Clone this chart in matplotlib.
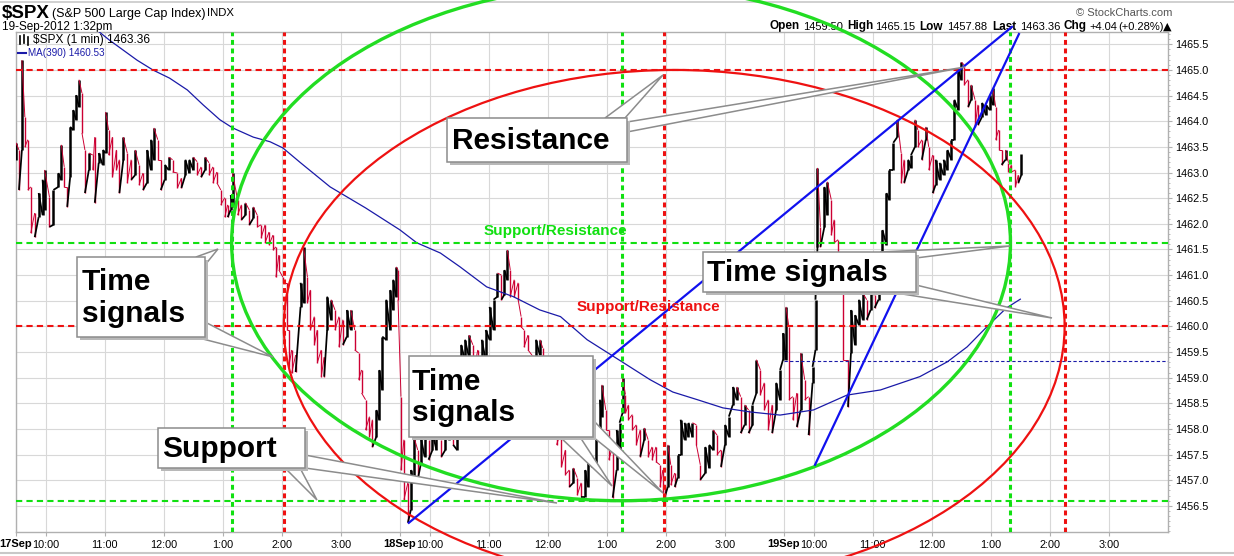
import numpy as np
import matplotlib.pyplot as plt
from matplotlib.collections import LineCollection
from matplotlib.patches import Ellipse, Polygon, Rectangle
from matplotlib.ticker import MultipleLocator, FixedLocator

plt.rcParams['font.family'] = ['Liberation Sans', 'DejaVu Sans']

# ---- data: $SPX 1-min bars, 17-19 Sep 2012 (minutes on a trading-time axis) ----
# minute 0 = 17Sep 9:30, 390 = 18Sep 9:30, 780 = 19Sep 9:30
bar_t = [
    # 17 Sep
    0, 3, 6, 9, 12, 15, 19, 23, 27, 29,
    34, 38, 43, 46, 49, 52, 55, 58, 61, 64,
    67, 70, 74, 78, 80, 84, 88, 91, 94, 98,
    102, 105, 109, 113, 117, 121, 125, 129, 133, 137,
    140, 144, 147, 151, 155, 159, 164, 168, 172, 176,
    180, 184, 188, 192, 196, 200, 204, 208, 212, 215,
    218, 220, 225, 229, 233, 237, 241, 245, 249, 253,
    257, 261, 264, 267, 271, 275, 277, 280, 284, 289,
    292, 296, 299, 303, 306, 310, 313, 316, 320, 324,
    328, 332, 336, 340, 344, 348, 351, 355, 359, 362,
    366, 369, 372, 376, 380, 383, 386, 388,
    # 18 Sep
    391, 394, 398, 401, 404, 408, 411, 415, 419, 423,
    427, 432, 436, 440, 444, 448, 452, 456, 460, 464,
    469, 473, 477, 481, 485, 489, 493, 496, 499, 502,
    506, 510, 513, 516, 520, 524, 528, 532, 535, 539,
    544, 549, 554, 558, 562, 566, 570, 574, 578, 581,
    585, 589, 593, 595, 599, 602, 606, 610, 613, 616,
    619, 622, 626, 630, 634, 638, 642, 646, 650, 654,
    657, 659, 662, 665, 669, 672, 675, 679, 683, 687,
    691, 695, 700, 704, 708, 712, 716, 720, 724, 728,
    732, 736, 740, 744, 748, 752, 756, 760, 764, 768,
    772, 776, 779,
    # 19 Sep
    782, 785, 789, 793, 797, 801, 805, 809, 812, 814,
    817, 821, 824, 828, 831, 835, 840, 845, 848, 852,
    856, 860, 864, 868, 872, 876, 880, 884, 887, 891,
    895, 899, 902, 906, 909, 913, 916, 920, 924, 927,
    931, 934, 938, 942, 946, 950, 953, 957, 960, 963,
    967, 970, 974, 977, 981, 985, 989, 992, 995, 998,
    1001, 1005, 1008, 1011, 1015, 1018, 1021,
]
bar_hi = [
    1463.58, 1463.44, 1465.19, 1464.08, 1463.64, 1462.72, 1462.21, 1462.60, 1462.86, 1463.05,
    1462.52, 1462.66, 1462.99, 1463.54, 1463.11, 1462.72, 1463.89, 1464.22, 1464.51, 1464.81,
    1464.55, 1463.44, 1463.38, 1463.34, 1463.69, 1463.38, 1463.44, 1464.18, 1463.83, 1463.69,
    1463.44, 1463.25, 1463.69, 1463.38, 1463.25, 1463.44, 1463.15, 1462.99, 1463.44, 1463.64,
    1463.87, 1463.64, 1463.25, 1463.15, 1463.30, 1463.25, 1462.99, 1462.89, 1463.25, 1463.25,
    1463.30, 1463.21, 1463.11, 1463.30, 1463.19, 1463.11, 1463.01, 1462.66, 1462.51, 1462.37,
    1462.56, 1462.99, 1462.47, 1462.37, 1462.41, 1462.27, 1462.33, 1462.17, 1461.98, 1461.98,
    1461.84, 1461.78, 1461.55, 1461.39, 1460.96, 1460.85, 1459.93, 1459.54, 1459.44, 1460.85,
    1461.55, 1460.96, 1460.71, 1460.19, 1459.93, 1459.54, 1459.40, 1460.58, 1460.52, 1460.32,
    1460.19, 1460.13, 1460.32, 1460.32, 1459.93, 1459.48, 1459.15, 1458.57, 1458.24, 1458.18,
    1458.37, 1459.15, 1459.80, 1460.52, 1460.71, 1460.91, 1461.16, 1461.10,
    1458.63, 1457.79, 1456.95, 1457.20, 1457.85, 1457.59, 1457.85, 1457.92, 1457.79, 1457.92,
    1457.98, 1457.79, 1458.08, 1458.24, 1458.08, 1458.18, 1459.64, 1459.74, 1459.83, 1459.64,
    1459.54, 1459.74, 1459.93, 1460.38, 1460.52, 1461.04, 1461.00, 1461.10, 1461.49, 1461.10,
    1460.91, 1460.85, 1460.19, 1459.93, 1459.83, 1459.44, 1459.74, 1459.74, 1459.58, 1459.35,
    1458.67, 1458.18, 1457.98, 1457.59, 1457.20, 1457.24, 1457.05, 1456.95, 1457.20, 1457.46,
    1457.46, 1457.85, 1458.57, 1458.86, 1458.37, 1457.98, 1457.65, 1457.98, 1458.12, 1459.00,
    1458.67, 1458.47, 1458.28, 1458.08, 1457.98, 1458.02, 1457.79, 1457.65, 1457.65, 1457.30,
    1457.20, 1456.91, 1457.69, 1457.30, 1457.14, 1457.50, 1458.18, 1458.12, 1458.12, 1458.12,
    1458.08, 1457.30, 1457.65, 1457.69, 1457.98, 1457.88, 1457.59, 1458.08, 1458.24, 1458.82,
    1458.82, 1458.63, 1458.47, 1458.37, 1458.47, 1459.35, 1459.15, 1458.90, 1458.57, 1458.47,
    1458.90, 1459.15, 1459.87,
    1460.38, 1459.99, 1458.63, 1458.70, 1459.48, 1458.96, 1458.63, 1459.21, 1460.52, 1463.09,
    1461.94, 1462.72, 1462.82, 1462.47, 1462.08, 1461.69, 1460.65, 1459.35, 1460.32, 1460.22,
    1460.52, 1460.65, 1460.52, 1460.65, 1460.61, 1460.91, 1461.88, 1462.60, 1463.05, 1463.58,
    1464.03, 1463.38, 1463.25, 1463.25, 1463.34, 1464.03, 1463.83, 1463.64, 1463.89, 1463.50,
    1463.34, 1463.25, 1463.19, 1463.25, 1463.44, 1463.64, 1464.42, 1465.00, 1465.15, 1465.10,
    1464.81, 1464.71, 1464.42, 1464.32, 1464.36, 1464.32, 1464.51, 1464.65, 1464.28, 1463.83,
    1463.44, 1463.44, 1463.19, 1463.15, 1463.05, 1462.95, 1463.36,
]
bar_lo = [
    1463.25, 1462.66, 1463.44, 1463.50, 1462.66, 1461.82, 1461.74, 1462.13, 1462.17, 1462.27,
    1461.94, 1461.98, 1462.72, 1462.86, 1462.72, 1462.33, 1462.91, 1463.83, 1464.03, 1464.28,
    1463.77, 1462.60, 1463.05, 1463.05, 1462.41, 1463.19, 1463.15, 1463.38, 1463.34, 1462.91,
    1463.05, 1462.60, 1463.25, 1462.80, 1462.86, 1462.95, 1462.76, 1462.66, 1462.80, 1463.05,
    1463.25, 1463.25, 1462.66, 1462.86, 1463.05, 1463.01, 1462.70, 1462.70, 1462.95, 1462.99,
    1463.05, 1462.95, 1462.91, 1463.05, 1462.95, 1462.80, 1462.80, 1462.37, 1462.13, 1462.13,
    1462.27, 1462.33, 1462.17, 1462.08, 1462.17, 1461.98, 1462.11, 1461.94, 1461.73, 1461.63,
    1461.59, 1461.49, 1460.96, 1461.10, 1460.85, 1459.93, 1459.21, 1459.09, 1459.11, 1460.38,
    1460.46, 1460.46, 1459.93, 1459.64, 1459.29, 1459.02, 1459.02, 1459.93, 1460.13, 1459.93,
    1459.60, 1459.64, 1459.80, 1459.93, 1459.54, 1458.96, 1458.70, 1457.98, 1457.85, 1457.65,
    1457.85, 1458.18, 1458.76, 1459.74, 1459.93, 1460.32, 1460.58, 1460.52,
    1457.20, 1456.62, 1456.17, 1456.42, 1456.95, 1457.01, 1457.30, 1457.46, 1457.40, 1457.59,
    1457.59, 1457.46, 1457.59, 1457.79, 1457.69, 1457.59, 1458.96, 1459.35, 1459.40, 1459.05,
    1458.96, 1459.15, 1459.35, 1459.74, 1459.93, 1460.58, 1460.52, 1460.62, 1460.91, 1460.58,
    1460.58, 1460.52, 1459.99, 1459.60, 1459.54, 1459.35, 1459.40, 1459.44, 1459.38, 1458.57,
    1457.98, 1457.69, 1457.26, 1457.11, 1456.87, 1456.95, 1456.71, 1456.68, 1456.68, 1456.87,
    1457.26, 1457.34, 1457.79, 1458.24, 1457.98, 1457.40, 1456.66, 1457.20, 1457.59, 1458.31,
    1458.31, 1458.18, 1457.98, 1457.69, 1457.46, 1457.79, 1457.46, 1457.40, 1457.36, 1456.87,
    1456.75, 1456.68, 1456.87, 1456.91, 1456.87, 1457.05, 1457.50, 1457.79, 1457.85, 1457.85,
    1457.69, 1457.01, 1457.14, 1457.24, 1457.59, 1457.50, 1457.26, 1457.69, 1457.85, 1458.47,
    1458.57, 1457.92, 1458.08, 1457.92, 1458.08, 1458.70, 1458.67, 1458.37, 1457.98, 1457.92,
    1458.37, 1458.57, 1459.35,
    1459.35, 1458.57, 1458.18, 1458.04, 1458.37, 1458.57, 1457.88, 1458.90, 1459.54, 1461.55,
    1461.55, 1461.94, 1462.17, 1461.78, 1461.63, 1460.71, 1459.35, 1458.43, 1459.48, 1459.64,
    1460.03, 1460.13, 1460.13, 1460.32, 1460.36, 1460.52, 1461.39, 1461.59, 1462.47, 1463.05,
    1463.69, 1462.80, 1462.80, 1463.05, 1463.09, 1463.50, 1463.50, 1463.25, 1463.64, 1463.05,
    1462.60, 1462.76, 1462.86, 1462.95, 1463.05, 1463.25, 1463.64, 1464.22, 1464.81, 1464.71,
    1464.28, 1464.42, 1463.89, 1463.93, 1464.08, 1464.12, 1464.22, 1464.32, 1463.64, 1463.44,
    1463.15, 1463.25, 1463.01, 1463.01, 1462.72, 1462.80, 1462.95,
]

# MA(390)
ma_t = [82, 95, 123, 139, 156, 174, 190, 207, 220, 241, 258, 271, 289, 319, 355,
        390, 407, 431, 451, 478, 505, 532, 553, 580, 617, 644, 667, 692, 718, 746,
        776, 810, 844, 878, 918, 946, 966, 986, 1006, 1020]
ma_v = [1465.78, 1465.58, 1465.19, 1465.00, 1464.84, 1464.61, 1464.32, 1464.03, 1463.87,
        1463.69, 1463.60, 1463.48, 1463.19, 1462.72, 1462.31, 1461.88, 1461.63, 1461.43,
        1461.16, 1460.77, 1460.58, 1460.32, 1460.19, 1459.74, 1459.29, 1458.96, 1458.72,
        1458.57, 1458.41, 1458.33, 1458.27, 1458.37, 1458.66, 1458.76, 1459.02, 1459.31,
        1459.60, 1459.99, 1460.36, 1460.53]

resistance = 1465.0
sr_green = 1461.63
sr_red = 1460.0
support = 1456.6
prev_close = 1459.32
green_times = [219, 615, 1010]
red_times = [272, 658, 1065]
trend1_t, trend1_v = [399, 1011.5], [1456.17, 1465.84]
trend2_t, trend2_v = [811.5, 1018.6], [1457.30, 1465.70]

day_names = ['17Sep', '18Sep', '19Sep']
hour_labels = ['10:00', '11:00', '12:00', '1:00', '2:00', '3:00']
hour_offsets = [30, 90, 150, 210, 270, 330]
day_len = 390
price_ticks = np.arange(1456.5, 1465.51, 0.5)

# ---- figure ----
W, H = 1234, 556
fig = plt.figure(figsize=(W / 100, H / 100), dpi=100, facecolor='white')
L, R, T, B = 16, 1168, 32, 532

# header (under the plot, ellipses go over it)
hd = fig.add_axes([0, 0, 1, 1], zorder=-1)
hd.set_xlim(0, W); hd.set_ylim(H, 0); hd.axis('off')
hd.plot([0, W], [1.5, 1.5], color='#c8c8c8', lw=1.2)
hd.plot([0, W], [553, 553], color='#c8c8c8', lw=1.5)
hd.text(2, 13, '$SPX', fontsize=13.5, fontweight='bold', va='center')
hd.text(52, 13.5, '(S&P 500 Large Cap Index)', fontsize=9, va='center')
hd.text(207, 13.5, 'INDX', fontsize=8.2, va='center')
hd.text(2, 27, '19-Sep-2012 1:32pm', fontsize=8.5, va='center')
hd.text(1172, 13, '\u00a9 StockCharts.com', fontsize=8, color='#555555', ha='right', va='center')
info = [(770, 'Open', True), (803, '1459.50', False), (847, 'High', True), (875, '1465.15', False),
        (919, 'Low', True), (947, '1457.88', False), (992, 'Last', True), (1020, '1463.36', False),
        (1064, 'Chg', True), (1089, '+4.04', False), (1118, '(+0.28%)', False), (1163, '\u25b2', False)]
for x, s, bold in info:
    hd.text(x, 26.5, s, fontsize=8.5 if bold else 8, fontweight='bold' if bold else 'normal',
            va='center', family=['DejaVu Sans'] if s == '\u25b2' else None)

ax = fig.add_axes([L / W, 1 - B / H, (R - L) / W, (B - T) / H], zorder=1)
ax.set_facecolor('white')
ax.set_xlim(0, 1170)
ax.set_ylim(1455.99, 1465.74)

# grid / ticks
xt = []
for d in range(3):
    xt.append(d * day_len)
    xt += [d * day_len + o for o in hour_offsets]
ax.xaxis.set_major_locator(FixedLocator(xt))
ax.set_xticklabels(['' if i % 7 == 0 else hour_labels[i % 7 - 1] for i in range(len(xt))])
ax.yaxis.set_major_locator(FixedLocator(price_ticks))
ax.yaxis.set_minor_locator(MultipleLocator(0.1))
ax.yaxis.tick_right()
ax.yaxis.set_major_formatter(plt.FormatStrFormatter('%.1f'))
ax.tick_params(axis='y', which='major', length=3, color='#b0b0b0', labelsize=7.8, pad=2.5)
ax.tick_params(axis='y', which='minor', length=1.5, color='#b0b0b0')
ax.tick_params(axis='x', length=3, color='#b0b0b0', labelsize=7.8, pad=3)
ax.grid(True, which='major', color='#d8d8d8', lw=0.8)
ax.set_axisbelow(True)
for s in ax.spines.values():
    s.set_color('#b0b0b0')
    s.set_linewidth(1)
for d in range(3):
    ax.annotate(day_names[d], xy=(d * day_len + hour_offsets[0], 0), xycoords=('data', 'axes fraction'),
                xytext=(-9.8, -5.2), textcoords='offset points', ha='right', va='top',
                fontsize=8, fontweight='bold')

# price bars
t = np.array(bar_t, float)
hi = np.array(bar_hi)
lo = np.array(bar_lo)
mid = (hi + lo) / 2
up = np.r_[True, mid[1:] >= mid[:-1]]
segs, cols, lws = [], [], []
prev = None
for i in range(len(t)):
    a, b = (lo[i], hi[i]) if up[i] else (hi[i], lo[i])
    c = 'black' if up[i] else '#cc0033'
    w = 1.8 if up[i] else 1.0
    if prev is not None:
        segs.append([prev, (t[i], a)]); cols.append(c); lws.append(w * 0.7)
    segs.append([(t[i], a), (t[i], b)]); cols.append(c); lws.append(w)
    prev = (t[i], b)
ax.add_collection(LineCollection(segs, colors=cols, linewidths=lws, zorder=3))

# MA
ax.plot(ma_t, ma_v, color='#1a1aa8', lw=0.9, zorder=4)

# levels
ax.axhline(resistance, color='#ee1111', lw=1.5, dashes=(3, 2), zorder=5)
ax.axhline(sr_red, color='#ee1111', lw=1.5, dashes=(3, 2), zorder=5)
ax.axhline(sr_green, color='#11e011', lw=1.5, dashes=(3, 2), zorder=5)
ax.axhline(support, color='#11e011', lw=1.5, dashes=(3, 2), zorder=5)
ax.plot([2 * day_len, 1170], [prev_close, prev_close], color='#1a1aa8', lw=0.8, dashes=(3, 2), zorder=5)
for x in green_times:
    ax.axvline(x, color='#11e011', lw=2.2, dashes=(1.6, 1.2), zorder=5)
for x in red_times:
    ax.axvline(x, color='#ee1111', lw=2.2, dashes=(1.6, 1.2), zorder=5)

# ellipses
ax.add_patch(Ellipse(((green_times[0] + green_times[2]) / 2, sr_green),
                     green_times[2] - green_times[0], 2 * (sr_green - support),
                     fill=False, ec='#22dd22', lw=2.4, clip_on=False, zorder=6))
ax.add_patch(Ellipse(((red_times[0] + red_times[2]) / 2, sr_red),
                     red_times[2] - red_times[0], 2 * (resistance - sr_red),
                     fill=False, ec='#ee1111', lw=1.6, clip_on=False, zorder=6))
# trend lines
ax.plot(trend1_t, trend1_v, color='#1111ee', lw=1.6, clip_on=False, zorder=6)
ax.plot(trend2_t, trend2_v, color='#1111ee', lw=1.6, clip_on=False, zorder=6)

ax.text(548, sr_green + 0.1, 'Support/Resistance', color='#11e011', fontsize=11,
        fontweight='bold', ha='center', va='bottom', zorder=7)
ax.text(642, sr_red + 0.24, 'Support/Resistance', color='#ee1111', fontsize=11,
        fontweight='bold', ha='center', va='bottom', zorder=7)

# ---- overlay: legend + callouts (pixel coords) ----
ov = fig.add_axes([0, 0, 1, 1], zorder=5)
ov.set_xlim(0, W); ov.set_ylim(H, 0); ov.axis('off')
ov.patch.set_alpha(0)
ov.plot([20, 20], [36, 44], color='black', lw=1.2)
ov.plot([24, 24], [35, 43], color='black', lw=1.2)
ov.plot([28, 28], [37, 45], color='black', lw=1.2)
ov.text(33, 40.5, '$SPX (1 min) 1463.36', fontsize=8.6, va='center')
ov.plot([18, 26], [53, 53], color='#1a1aa8', lw=1.5)
ov.text(28, 53, 'MA(390) 1460.53', fontsize=7.1, color='#1a1aa8', va='center')


def callout(box, text, tx, tails):
    x0, y0, x1, y1 = box
    for b1, b2, tip in tails:
        ov.add_patch(Polygon([b1, tip, b2], closed=True, fc='white', ec='#8c8c8c', lw=1.1, zorder=2))
    ov.add_patch(Rectangle((x0 + 3, y0 + 3), x1 - x0, y1 - y0, fc='#b8b8b8', ec='none', zorder=2.5))
    ov.add_patch(Rectangle((x0, y0), x1 - x0, y1 - y0, fc='white', ec='#8c8c8c', lw=1.1, zorder=3))
    ov.text(tx, (y0 + y1) / 2 + 1, text, fontsize=21.5, fontweight='bold', va='center', ha='left',
            linespacing=1.18, zorder=4)


callout((447, 118, 627, 162), 'Resistance', 452,
        [((605, 118), (625, 118), (663, 75)), ((627, 122), (627, 132), (965, 67))])
callout((77, 257, 205, 337), 'Time\nsignals', 82,
        [((196, 257), (205, 265), (218, 249)), ((205, 322), (195, 337), (273, 357))])
callout((158, 428, 305, 468), 'Support', 162,
        [((285, 468), (300, 468), (317, 500)), ((305, 455), (305, 468), (557, 503))])
callout((409, 356, 593, 437), 'Time\nsignals', 412,
        [((560, 437), (580, 437), (612, 486)), ((593, 420), (593, 437), (663, 493))])
callout((703, 252, 916, 292), 'Time signals', 707,
        [((880, 252), (916, 258), (1010, 246)), ((916, 285), (890, 292), (1052, 318))])

fig.savefig('out.png', dpi=100, facecolor='white')
